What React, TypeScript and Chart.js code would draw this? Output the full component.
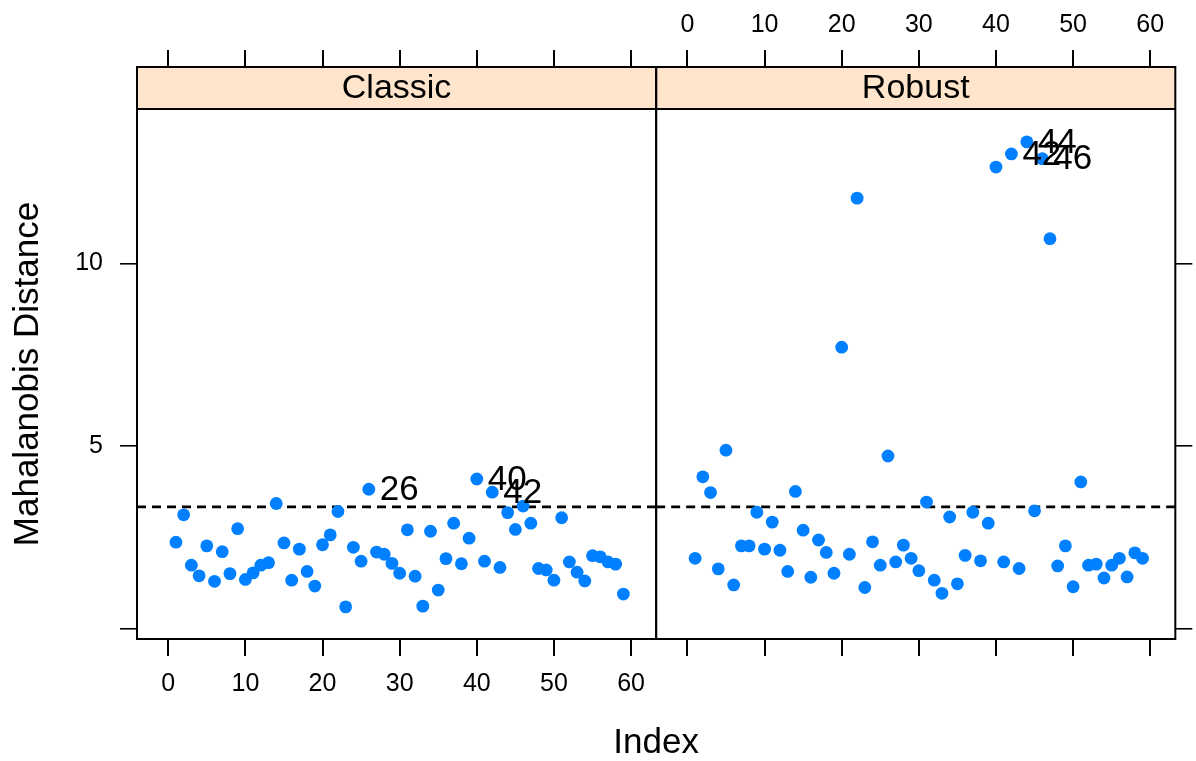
import React, { useEffect, useRef } from "react";
import { Chart, registerables } from "chart.js";

Chart.register(...registerables);

// ---------- data ----------
const index = [
  1, 2, 3, 4, 5, 6, 7, 8, 9, 10, 11, 12, 13, 14, 15, 16, 17, 18, 19, 20,
  21, 22, 23, 24, 25, 26, 27, 28, 29, 30, 31, 32, 33, 34, 35, 36, 37, 38, 39, 40,
  41, 42, 43, 44, 45, 46, 47, 48, 49, 50, 51, 52, 53, 54, 55, 56, 57, 58, 59,
];

const classicDist = [
  2.37, 3.12, 1.74, 1.45, 2.27, 1.30, 2.11, 1.51, 2.74, 1.35,
  1.53, 1.74, 1.81, 3.43, 2.35, 1.33, 2.18, 1.57, 1.17, 2.30,
  2.57, 3.21, 0.60, 2.23, 1.85, 3.82, 2.10, 2.04, 1.79, 1.52,
  2.71, 1.44, 0.62, 2.67, 1.06, 1.92, 2.89, 1.78, 2.48, 4.10,
  1.85, 3.74, 1.68, 3.18, 2.72, 3.36, 2.89, 1.65, 1.61, 1.33,
  3.04, 1.83, 1.55, 1.31, 2.00, 1.97, 1.83, 1.77, 0.95,
];

const robustDist = [
  1.93, 4.16, 3.73, 1.64, 4.89, 1.20, 2.27, 2.27, 3.19, 2.18,
  2.92, 2.15, 1.57, 3.76, 2.70, 1.41, 2.43, 2.09, 1.52, 7.71,
  2.04, 11.79, 1.13, 2.38, 1.74, 4.73, 1.83, 2.29, 1.93, 1.59,
  3.47, 1.33, 0.97, 3.06, 1.23, 2.01, 3.19, 1.86, 2.89, 12.64,
  1.83, 13.00, 1.65, 13.33, 3.23, 12.87, 10.68, 1.72, 2.27, 1.15,
  4.02, 1.74, 1.77, 1.39, 1.74, 1.93, 1.42, 2.08, 1.93,
];

const cutoff = 3.338;
const panelNames = ["Classic", "Robust"];
const classicLabeled = [26, 40, 42];
const robustLabeled = [44, 42, 46];
const xTicks = [0, 10, 20, 30, 40, 50, 60];
const yTicks = [0, 5, 10];
const yTickLabels = ["", "5", "10"];
const xLabel = "Index";
const yLabel = "Mahalanobis Distance";

const X_MIN = -4.05;
const X_MAX = 63.25;
const Y_MIN = -0.28;
const Y_MAX = 15.38;

// ---------- style ----------
const W = 1196;
const H = 761;
const FONT = "'Liberation Sans', Arial, Helvetica, sans-serif";
const POINT_COL = "#0080ff";
const STRIP_COL = "#ffe5cc";
const STRIP_H = 42;

const setX = (s: any) => {
  s.ticks = xTicks.map((v) => ({ value: v }));
};
const setY = (s: any) => {
  s.ticks = yTicks.map((v) => ({ value: v }));
};

const tickGrid = (w: number) => ({
  drawOnChartArea: false,
  drawTicks: true,
  tickLength: 17,
  color: "#000",
  lineWidth: w,
});

const latticePlugin = {
  id: "latticePanels",
  beforeDatasetsDraw(chart: any) {
    const { ctx, chartArea: ca, scales } = chart;
    const panels = [scales.xL, scales.xR];
    ctx.save();
    panels.forEach((s: any, i: number) => {
      ctx.fillStyle = STRIP_COL;
      ctx.fillRect(s.left, ca.top, s.right - s.left, STRIP_H);
      ctx.fillStyle = "#000";
      ctx.font = `34px ${FONT}`;
      ctx.textAlign = "center";
      ctx.textBaseline = "middle";
      ctx.fillText(panelNames[i], (s.left + s.right) / 2, ca.top + STRIP_H / 2 + 1);
    });
    ctx.restore();
  },
  afterDatasetsDraw(chart: any) {
    const { ctx, chartArea: ca, scales } = chart;
    const panels = [scales.xL, scales.xR];
    ctx.save();
    ctx.strokeStyle = "#000";
    ctx.lineWidth = 2;
    panels.forEach((s: any) => {
      ctx.strokeRect(s.left, ca.top, s.right - s.left, ca.bottom - ca.top);
      ctx.beginPath();
      ctx.moveTo(s.left, ca.top + STRIP_H);
      ctx.lineTo(s.right, ca.top + STRIP_H);
      ctx.stroke();
    });
    // point labels
    ctx.fillStyle = "#000";
    ctx.font = `35px ${FONT}`;
    ctx.textAlign = "left";
    ctx.textBaseline = "middle";
    const labelSets = [classicLabeled, robustLabeled];
    labelSets.forEach((labs, di) => {
      const meta = chart.getDatasetMeta(di);
      labs.forEach((k) => {
        const j = index.indexOf(k);
        const el = meta.data[j];
        if (el) ctx.fillText(String(k), el.x + 11, el.y + 1);
      });
    });
    // shared x title
    ctx.textAlign = "center";
    ctx.fillText(xLabel, (ca.left + ca.right) / 2, ca.bottom + 104);
    // y title, centred on the panel body (below the strips)
    ctx.save();
    ctx.translate(28, (ca.top + STRIP_H + ca.bottom) / 2);
    ctx.rotate(-Math.PI / 2);
    ctx.fillText(yLabel, 0, 0);
    ctx.restore();
    ctx.restore();
  },
};

export default function App() {
  const ref = useRef<HTMLCanvasElement | null>(null);

  useEffect(() => {
    if (!ref.current) return;
    const classicPts = index.map((x, i) => ({ x, y: classicDist[i] }));
    const robustPts = index.map((x, i) => ({ x, y: robustDist[i] }));
    const tickFont = { family: FONT, size: 25 };

    const chart = new Chart(ref.current, {
      type: "scatter",
      data: {
        datasets: [
          {
            label: panelNames[0],
            data: classicPts,
            xAxisID: "xL",
            yAxisID: "y",
            backgroundColor: POINT_COL,
            borderWidth: 0,
            pointRadius: 6.4,
          },
          {
            label: panelNames[1],
            data: robustPts,
            xAxisID: "xR",
            yAxisID: "y",
            backgroundColor: POINT_COL,
            borderWidth: 0,
            pointRadius: 6.4,
          },
          {
            type: "line",
            label: "cutoff classic",
            data: [
              { x: X_MIN, y: cutoff },
              { x: X_MAX, y: cutoff },
            ],
            xAxisID: "xL",
            yAxisID: "y",
            borderColor: "#000",
            borderWidth: 2.6,
            borderDash: [9, 6],
            pointRadius: 0,
            fill: false,
          },
          {
            type: "line",
            label: "cutoff robust",
            data: [
              { x: X_MIN, y: cutoff },
              { x: X_MAX, y: cutoff },
            ],
            xAxisID: "xR",
            yAxisID: "y",
            borderColor: "#000",
            borderWidth: 2.6,
            borderDash: [9, 6],
            pointRadius: 0,
            fill: false,
          },
        ] as any,
      },
      options: {
        responsive: false,
        animation: false,
        devicePixelRatio: 1,
        layout: { padding: 0 },
        plugins: {
          legend: { display: false },
          tooltip: { enabled: false },
          title: { display: false },
        },
        scales: {
          y: {
            type: "linear",
            position: "left",
            min: Y_MIN,
            max: Y_MAX,
            afterBuildTicks: setY,
            afterFit: (s: any) => {
              s.width = 137;
            },
            grid: tickGrid(1.6),
            border: { display: false },
            ticks: {
              font: tickFont,
              color: "#000",
              padding: 17,
              callback: (v: any) => {
                const i = yTicks.indexOf(Number(v));
                return i >= 0 ? yTickLabels[i] : "";
              },
            },
            title: { display: false },
          },
          yR: {
            type: "linear",
            position: "right",
            min: Y_MIN,
            max: Y_MAX,
            afterBuildTicks: setY,
            afterFit: (s: any) => {
              s.width = 17;
            },
            grid: tickGrid(1.6),
            border: { display: false },
            ticks: { display: false },
          },
          xL: {
            type: "linear",
            position: "bottom",
            stack: "bottomStack",
            weight: 0,
            min: X_MIN,
            max: X_MAX,
            afterBuildTicks: setX,
            afterFit: (s: any) => {
              s.height = 122;
            },
            grid: tickGrid(2),
            border: { display: false },
            ticks: {
              font: tickFont,
              color: "#000",
              padding: 13,
              autoSkip: false,
              maxRotation: 0,
            },
          },
          xRb: {
            type: "linear",
            position: "bottom",
            stack: "bottomStack",
            weight: 1,
            min: X_MIN,
            max: X_MAX,
            afterBuildTicks: setX,
            afterFit: (s: any) => {
              s.height = 122;
            },
            grid: tickGrid(2),
            border: { display: false },
            ticks: { display: false },
          },
          xLt: {
            type: "linear",
            position: "top",
            stack: "topStack",
            weight: 1,
            min: X_MIN,
            max: X_MAX,
            afterBuildTicks: setX,
            afterFit: (s: any) => {
              s.height = 67;
            },
            grid: tickGrid(2),
            border: { display: false },
            ticks: { display: false },
          },
          xR: {
            type: "linear",
            position: "top",
            stack: "topStack",
            weight: 0,
            min: X_MIN,
            max: X_MAX,
            afterBuildTicks: setX,
            afterFit: (s: any) => {
              s.height = 67;
            },
            grid: tickGrid(2),
            border: { display: false },
            ticks: {
              font: tickFont,
              color: "#000",
              padding: 10,
              autoSkip: false,
              maxRotation: 0,
            },
          },
        } as any,
      },
      plugins: [latticePlugin],
    });

    return () => chart.destroy();
  }, []);

  return (
    <div style={{ position: "absolute", left: 0, top: 0, width: W, height: H, background: "#fff" }}>
      <canvas ref={ref} width={W} height={H} style={{ display: "block", width: W, height: H }} />
    </div>
  );
}
